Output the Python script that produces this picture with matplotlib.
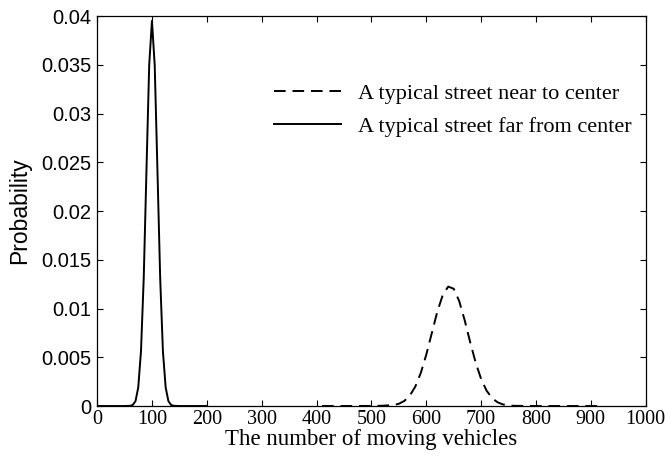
import numpy as np
import matplotlib
matplotlib.use("Agg")
import matplotlib.pyplot as plt

# far from center (solid)
x_far = [0, 30, 40, 50, 60, 65, 70, 75, 80, 85, 90, 95, 100,
         105, 110, 115, 120, 125, 130, 135, 140, 150, 160, 200]
p_far = [0, 0, 0, 0, 0.00002, 0.0001, 0.0005, 0.0019, 0.0056, 0.0131, 0.0242, 0.0350, 0.0395,
         0.0350, 0.0242, 0.0131, 0.0056, 0.0019, 0.0005, 0.0001, 0.00002, 0, 0, 0]

# near to center (dashed)
x_near = [410, 450, 500, 520, 540, 550, 560, 570, 580, 590, 600, 610, 620, 630, 640,
          650, 660, 670, 680, 690, 700, 710, 720, 730, 740, 750, 760, 800, 850, 915]
p_near = [0, 0, 0.00001, 0.00003, 0.0001, 0.00023, 0.00052, 0.00107, 0.00199, 0.00339,
          0.00526, 0.00746, 0.00965, 0.01138, 0.01225, 0.01203, 0.01077, 0.0088, 0.00656,
          0.00446, 0.00277, 0.00157, 0.00081, 0.00038, 0.00016, 0.00006, 0.00002, 0, 0, 0]

xticks = list(range(0, 1001, 100))
yticks = [0, 0.005, 0.01, 0.015, 0.02, 0.025, 0.03, 0.035, 0.04]
ytick_labels = ["0", "0.005", "0.01", "0.015", "0.02", "0.025", "0.03", "0.035", "0.04"]

serif = "Liberation Serif"
sans = "Liberation Sans"

fig = plt.figure(figsize=(6.65, 4.58), dpi=100)
ax = fig.add_axes([0.146, 0.1135, 0.825, 0.8515])

ax.plot(x_near, p_near, color="black", lw=1.4, linestyle=(0, (6, 3.5)),
        label="A typical street near to center")
ax.plot(x_far, p_far, color="black", lw=1.4, label="A typical street far from center")

ax.set_xlim(0, 1000)
ax.set_ylim(0, 0.04)
ax.set_xticks(xticks)
ax.set_xticklabels([str(t) for t in xticks], fontfamily=serif, fontsize=14.5)
ax.set_yticks(yticks)
ax.set_yticklabels(ytick_labels, fontfamily=sans, fontsize=14.5)
ax.tick_params(direction="in", top=True, right=True, length=4, width=0.8)
ax.tick_params(axis="y", pad=4)
ax.tick_params(axis="x", pad=3)
for s in ax.spines.values():
    s.set_linewidth(0.9)

ax.set_xlabel("The number of moving vehicles", fontfamily=serif, fontsize=16.5, labelpad=0)
ax.set_ylabel("Probability", fontfamily=sans, fontsize=16.5, labelpad=7)

ax.legend(loc="upper right", bbox_to_anchor=(0.99, 0.85), frameon=False,
          prop={"family": serif, "size": 16}, handlelength=3.0,
          handletextpad=0.75, labelspacing=0.55, borderaxespad=0)

fig.savefig("out.png", dpi=100)
